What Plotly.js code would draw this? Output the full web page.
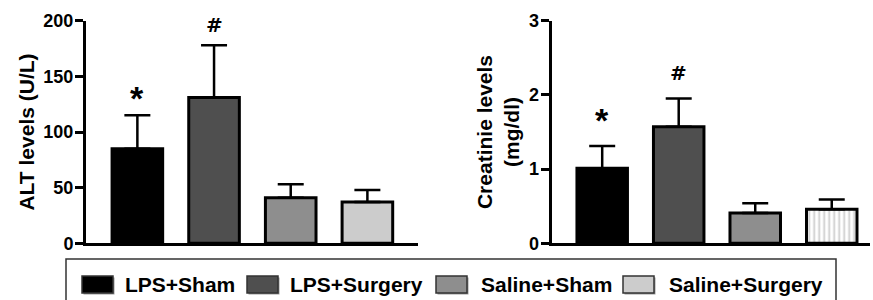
<!DOCTYPE html>
<html>
<head>
<meta charset="utf-8">
<script src="https://cdn.plot.ly/plotly-3.0.1.min.js"></script>
<style>html,body{margin:0;padding:0;background:#fff;}#chart{width:873px;height:300px;}</style>
</head>
<body>
<div id="chart"></div>
<script>
// ---- data ----
const groups = ["LPS+Sham", "LPS+Surgery", "Saline+Sham", "Saline+Surgery"];
const altMean = [85, 131, 41, 37];
const altErr = [30, 47, 12, 11];
const creatMean = [1.01, 1.57, 0.41, 0.46];
const creatErr = [0.30, 0.38, 0.13, 0.13];
const sigMarks = ["*", "#", "", ""];
const altTicks = [0, 50, 100, 150, 200];
const creatTicks = [0, 1, 2, 3];

// ---- style ----
const barColors = ["#000000", "#4f4f4f", "#8e8e8e", "#cccccc"];
const FONT = "Liberation Sans, Arial, Helvetica, sans-serif";
const W = 873, H = 300;
const px = v => v / W;
const py = v => 1 - v / H;

const traces = [
  {
    type: "bar", x: groups, y: altMean, xaxis: "x", yaxis: "y", width: 0.66,
    marker: { color: barColors, line: { color: "#000", width: 3 } },
    error_y: { type: "data", array: altErr, arrayminus: altErr.map(() => 0), symmetric: false,
               color: "#000", thickness: 2.5, width: 13 },
    showlegend: false, hoverinfo: "x+y"
  },
  {
    type: "bar", x: groups, y: creatMean, xaxis: "x2", yaxis: "y2", width: 0.66,
    marker: { color: barColors, line: { color: "#000", width: 3 },
              pattern: { shape: ["", "", "", "|"], fgcolor: "#e6e6e6", bgcolor: barColors, size: 5, solidity: 0.35, fillmode: "replace" } },
    error_y: { type: "data", array: creatErr, arrayminus: creatErr.map(() => 0), symmetric: false,
               color: "#000", thickness: 2.5, width: 13 },
    showlegend: false, hoverinfo: "x+y"
  }
];

const annotations = [];
groups.forEach((g, i) => {
  if (!sigMarks[i]) return;
  const star = sigMarks[i] === "*";
  const f = star ? { family: FONT, size: 34, color: "#000", weight: "bold" }
                 : { family: "DejaVu Sans, Liberation Sans, sans-serif", size: 20, color: "#000", weight: "bold" };
  annotations.push({ xref: "x", yref: "y", x: g, y: altMean[i] + altErr[i], text: "<b>" + sigMarks[i] + "</b>", showarrow: false,
    yanchor: "bottom", yshift: star ? -4 : 6, font: f });
  annotations.push({ xref: "x2", yref: "y2", x: g, y: creatMean[i] + creatErr[i], text: "<b>" + sigMarks[i] + "</b>", showarrow: false,
    yanchor: "bottom", yshift: star ? 5 : 12, font: f });
});

// custom legend (box, swatches, labels)
const shapes = [
  { type: "rect", xref: "paper", yref: "paper", x0: px(66), x1: px(836), y0: py(305), y1: py(259),
    line: { color: "#333", width: 1.5 }, fillcolor: "rgba(0,0,0,0)" }
];
const swX = [82, 247, 436, 623];
const txtX = [123, 288, 479, 667];
groups.forEach((g, i) => {
  shapes.push({ type: "rect", xref: "paper", yref: "paper", x0: px(swX[i] + 1.5), x1: px(swX[i] + 32.5), y0: py(294.5), y1: py(277.5),
    line: { width: 0 }, fillcolor: "#9a9a9a" });
  shapes.push({ type: "rect", xref: "paper", yref: "paper", x0: px(swX[i]), x1: px(swX[i] + 31), y0: py(293), y1: py(276),
    line: { color: "#333", width: 1.5 }, fillcolor: barColors[i] });
  annotations.push({ xref: "paper", yref: "paper", x: px(txtX[i]), y: py(284), xanchor: "left", yanchor: "middle",
    text: "<b>" + g + "</b>", showarrow: false, font: { family: FONT, size: 21, color: "#000", weight: "bold" } });
});

const axisFont = { family: FONT, size: 18, color: "#000", weight: "bold" };
const titleFont = { family: FONT, size: 21, color: "#000", weight: "bold" };
const boldTicks = arr => arr.map(v => "<b>" + v + "</b>");

const layout = {
  width: W, height: H,
  margin: { l: 0, r: 0, t: 0, b: 0 },
  paper_bgcolor: "#fff", plot_bgcolor: "#fff",
  showlegend: false,
  xaxis: { domain: [px(86), px(418)], range: [-0.67, 3.66], showticklabels: false, ticks: "",
           showline: true, linecolor: "#000", linewidth: 3, showgrid: false, zeroline: false, fixedrange: true },
  yaxis: { domain: [py(243.3), py(20.7)], range: [0, 200], tickvals: altTicks, ticktext: boldTicks(altTicks),
           ticks: "outside", ticklen: 8, tickwidth: 3, ticklabelstandoff: -2,
           tickcolor: "#000", showline: true, linecolor: "#000", linewidth: 3, showgrid: false, zeroline: false,
           tickfont: axisFont, title: { text: "<b>ALT levels (U/L)</b>", font: titleFont, standoff: 4 }, automargin: false },
  xaxis2: { domain: [px(551.7), px(870)], range: [-0.66, 3.5], showticklabels: false, ticks: "",
           showline: true, linecolor: "#000", linewidth: 3, showgrid: false, zeroline: false, fixedrange: true },
  yaxis2: { domain: [py(243.3), py(20.7)], range: [0, 3], tickvals: creatTicks, ticktext: boldTicks(creatTicks),
           ticks: "outside", ticklen: 8, tickwidth: 3, ticklabelstandoff: -2,
           tickcolor: "#000", showline: true, linecolor: "#000", linewidth: 3, showgrid: false, zeroline: false,
           tickfont: axisFont, title: { text: "<b>Creatinie levels<br>(mg/dl)</b>", font: titleFont, standoff: 4 }, automargin: false, anchor: "x2" },
  annotations: annotations,
  shapes: shapes
};

Plotly.newPlot("chart", traces, layout, { displayModeBar: false, staticPlot: true });
</script>
</body>
</html>
